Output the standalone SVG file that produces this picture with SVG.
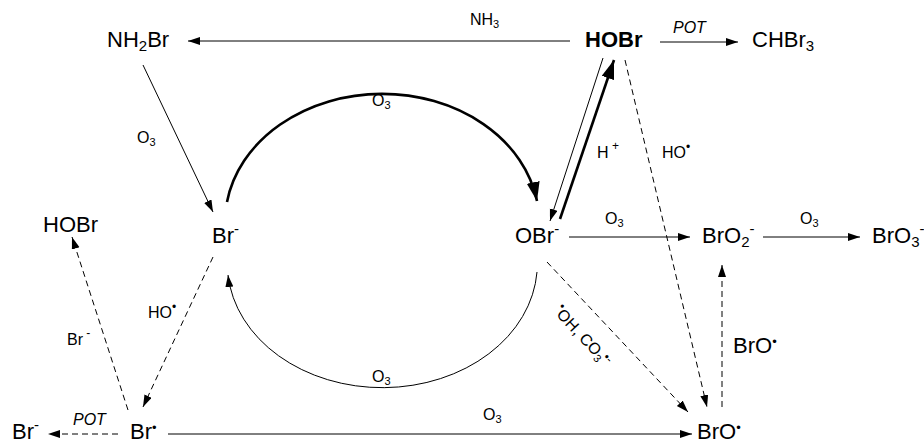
<svg xmlns="http://www.w3.org/2000/svg" width="924" height="443" viewBox="0 0 924 443">
<defs>
<style>
.sp{font-family:"Liberation Sans",Arial,sans-serif;font-size:22px;fill:#000}
.lb{font-family:"Liberation Sans",Arial,sans-serif;font-size:16px;fill:#000}
.it{font-style:italic}
.ln{fill:none;stroke:#000;stroke-width:1}
.th{fill:none;stroke:#000;stroke-width:2.6}
.ds{fill:none;stroke:#000;stroke-width:1;stroke-dasharray:6 4}
</style>
<marker id="ah" markerUnits="userSpaceOnUse" markerWidth="13" markerHeight="9" refX="12" refY="4" orient="auto">
<path d="M0,0 L12,4 L0,8 z" fill="#000"/>
</marker>
<marker id="ahb" markerUnits="userSpaceOnUse" markerWidth="20" markerHeight="14" refX="19" refY="6.5" orient="auto">
<path d="M0,0 L19,6.5 L0,13 z" fill="#000"/>
</marker>
</defs>
<rect width="924" height="443" fill="#fff"/>

<g id="connectors">
<line class="ln" x1="570" y1="41" x2="188" y2="41" marker-end="url(#ah)"/>
<line class="ln" x1="660" y1="42" x2="738" y2="42" marker-end="url(#ah)"/>
<line class="ln" x1="143" y1="65" x2="213" y2="212" marker-end="url(#ah)"/>
<path class="th" d="M227,202 A157,128 0 0 1 537,201" marker-end="url(#ahb)"/>
<line class="ln" x1="603" y1="58" x2="550" y2="221" marker-end="url(#ah)"/>
<line class="th" x1="560" y1="219" x2="614" y2="60" marker-end="url(#ahb)"/>
<line class="ds" x1="625" y1="60" x2="707" y2="407" marker-end="url(#ah)"/>
<line class="ln" x1="569" y1="237" x2="690" y2="237" marker-end="url(#ah)"/>
<line class="ln" x1="763" y1="237" x2="860" y2="237" marker-end="url(#ah)"/>
<path class="ln" d="M537,272 A155,124 0 0 1 228,275" marker-end="url(#ah)"/>
<line class="ds" x1="547" y1="262" x2="688" y2="412" marker-end="url(#ah)"/>
<line class="ds" x1="722" y1="407" x2="722" y2="265" marker-end="url(#ah)"/>
<line class="ds" x1="213" y1="257" x2="143" y2="407" marker-end="url(#ah)"/>
<line class="ds" x1="128" y1="410" x2="72" y2="237" marker-end="url(#ah)"/>
<line class="ds" x1="118" y1="434" x2="48" y2="434" marker-end="url(#ah)"/>
<line class="ln" x1="168" y1="434" x2="692" y2="434" marker-end="url(#ah)"/>
</g>

<g id="labels">
<text class="lb" x="470" y="25">NH<tspan font-size="11" dy="3">3</tspan></text>
<text class="lb it" x="673" y="33">POT</text>
<text class="lb" x="137" y="143">O<tspan font-size="11" dy="3">3</tspan></text>
<text class="lb" x="372" y="106">O<tspan font-size="11" dy="3">3</tspan></text>
<text class="lb" x="597" y="158">H<tspan font-size="12" dy="-8"> +</tspan></text>
<text class="lb" x="662" y="158">HO<tspan font-size="12" dy="-7">•</tspan></text>
<text class="lb" x="605" y="224">O<tspan font-size="11" dy="3">3</tspan></text>
<text class="lb" x="800" y="224">O<tspan font-size="11" dy="3">3</tspan></text>
<text class="lb" x="148" y="318">HO<tspan font-size="12" dy="-7">•</tspan></text>
<text class="lb" x="67" y="345">Br<tspan font-size="12" dy="-8"> -</tspan></text>
<text class="lb it" x="73" y="425">POT</text>
<text class="lb" x="372" y="382">O<tspan font-size="11" dy="3">3</tspan></text>
<text class="lb" x="483" y="420">O<tspan font-size="11" dy="3">3</tspan></text>
<text class="lb" transform="translate(553,312) rotate(47)"><tspan font-size="12" dy="-7">•</tspan><tspan dy="7">OH, CO</tspan><tspan font-size="11" dy="3">3</tspan><tspan font-size="12" dy="-8">•</tspan><tspan font-size="12">-</tspan></text>
<text class="sp" x="733" y="353">BrO<tspan font-size="13" dy="-7">•</tspan></text>
</g>

<g id="NH2Br"><text class="sp" x="107" y="47">NH<tspan font-size="15" dy="4">2</tspan><tspan dy="-4">Br</tspan></text></g>
<g id="HOBr_top"><text class="sp" x="585" y="47" font-weight="bold">HOBr</text></g>
<g id="CHBr3"><text class="sp" x="752" y="47">CHBr<tspan font-size="15" dy="4">3</tspan></text></g>
<g id="HOBr_left"><text class="sp" x="43" y="232">HOBr</text></g>
<g id="Br_minus"><text class="sp" x="212" y="243">Br<tspan font-size="15" dy="-9">-</tspan></text></g>
<g id="OBr_minus"><text class="sp" x="515" y="243">OBr<tspan font-size="15" dy="-9">-</tspan></text></g>
<g id="BrO2_minus"><text class="sp" x="702" y="243">BrO<tspan font-size="15" dy="4">2</tspan><tspan font-size="15" dy="-13">-</tspan></text></g>
<g id="BrO3_minus"><text class="sp" x="872" y="243">BrO<tspan font-size="15" dy="4">3</tspan><tspan font-size="15" dy="-13">-</tspan></text></g>
<g id="Br_minus_bottom"><text class="sp" x="12" y="439">Br<tspan font-size="15" dy="-9">-</tspan></text></g>
<g id="Br_radical"><text class="sp" x="130" y="439">Br<tspan font-size="13" dy="-7">•</tspan></text></g>
<g id="BrO_radical"><text class="sp" x="697" y="439">BrO<tspan font-size="13" dy="-7">•</tspan></text></g>
</svg>
